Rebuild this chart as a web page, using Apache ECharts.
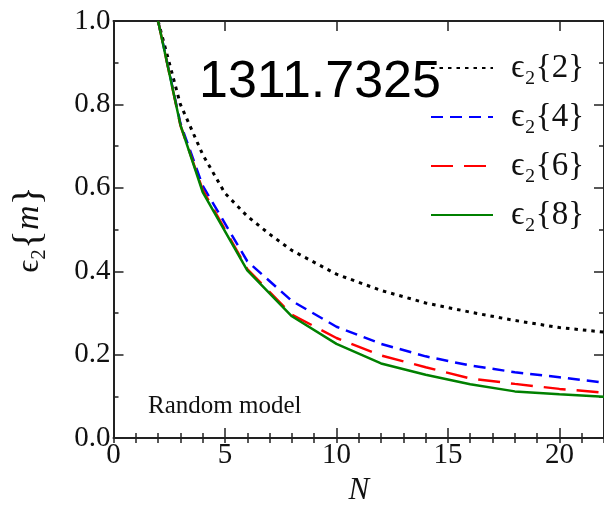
<!DOCTYPE html>
<html>
<head>
<meta charset="utf-8">
<script src="https://cdn.jsdelivr.net/npm/echarts@6/dist/echarts.min.js"></script>
<style>html,body{margin:0;padding:0;background:#fff}#c{width:604px;height:511px}</style>
</head>
<body>
<div id="c"></div>
<script>
// ---- data ----
const nColored = [2, 3, 4, 6, 8, 10, 12, 14, 16, 18, 20, 22];
const nDotted = [2, 3, 4, 5, 6, 7, 8, 10, 12, 14, 16, 18, 20, 22];
const eps2_2 = [1.0, 0.80, 0.68, 0.587, 0.532, 0.489, 0.45, 0.393, 0.354, 0.324, 0.302, 0.282, 0.265, 0.254];
const eps2_4 = [1.0, 0.755, 0.605, 0.424, 0.329, 0.267, 0.226, 0.196, 0.174, 0.158, 0.146, 0.133];
const eps2_6 = [1.0, 0.75, 0.595, 0.405, 0.296, 0.24, 0.198, 0.17, 0.143, 0.13, 0.118, 0.109];
const eps2_8 = [1.0, 0.751, 0.59, 0.402, 0.292, 0.226, 0.179, 0.152, 0.129, 0.112, 0.105, 0.099];
const seriesOrders = ['2', '4', '6', '8'];
const xTicks = [0, 5, 10, 15, 20];
const yTicks = [0.0, 0.2, 0.4, 0.6, 0.8, 1.0];
const annotation = '1311.7325';
const modelLabel = 'Random model';

const SERIF = '"Liberation Serif", "DejaVu Serif", serif';
const AX = '#222';
const pairs = (xs, ys) => xs.map((x, i) => [x, ys[i]]);

const chart = echarts.init(document.getElementById('c'), null, {renderer: 'canvas'});

const baseX = {
  type: 'value', min: 0, max: 22, gridIndex: 0,
  splitLine: {show: false},
  axisLine: {show: true, onZero: false, lineStyle: {color: AX, width: 2}},
};
const option = {
  animation: false,
  backgroundColor: '#fff',
  grid: {left: 113.5, right: -8.7, top: 21, bottom: 65, containLabel: false},
  xAxis: [
    Object.assign({}, baseX, {
      position: 'bottom', interval: 5,
      axisTick: {inside: true, length: 10, lineStyle: {color: AX, width: 1.5}},
      axisLabel: {fontFamily: SERIF, fontSize: 29, color: '#111', margin: 3, showMaxLabel: false,
        formatter: v => (xTicks.indexOf(v) >= 0 ? String(v) : '')},
      name: 'N', nameLocation: 'middle', nameGap: 36,
      nameTextStyle: {fontFamily: SERIF, fontStyle: 'italic', fontSize: 31, color: '#111'}
    }),
    Object.assign({}, baseX, {
      position: 'bottom', interval: 1,
      axisLine: {show: false},
      axisTick: {inside: true, length: 5, lineStyle: {color: AX, width: 1.5}},
      axisLabel: {show: false}
    }),
    Object.assign({}, baseX, {
      position: 'top', interval: 5,
      axisTick: {inside: true, length: 10, lineStyle: {color: AX, width: 1.5}},
      axisLabel: {show: false}
    }),
    Object.assign({}, baseX, {
      position: 'top', interval: 1,
      axisLine: {show: false},
      axisTick: {inside: true, length: 5, lineStyle: {color: AX, width: 1.5}},
      axisLabel: {show: false}
    })
  ],
  yAxis: [
    {
      type: 'value', min: 0, max: 1, interval: 0.2, position: 'left',
      splitLine: {show: false},
      axisLine: {show: true, onZero: false, lineStyle: {color: AX, width: 2}},
      axisTick: {inside: true, length: 10, lineStyle: {color: AX, width: 1.5}},
      minorTick: {show: true, splitNumber: 2, length: 5, lineStyle: {color: AX, width: 1.5}},
      axisLabel: {fontFamily: SERIF, fontSize: 29, color: '#111', margin: 3,
        formatter: v => {
          const t = yTicks.find(k => Math.abs(k - v) < 1e-6);
          return t === undefined ? '' : t.toFixed(1);
        }},
      name: '{e|ϵ}{s|2}{b|{}{m|m}}', nameLocation: 'middle', nameGap: 64,
      nameTextStyle: {
        fontFamily: SERIF, fontSize: 40, color: '#111',
        rich: {
          e: {fontFamily: SERIF, fontSize: 32, color: '#111'},
          s: {fontFamily: SERIF, fontSize: 21, color: '#111', verticalAlign: 'bottom'},
          b: {fontFamily: SERIF, fontSize: 40, color: '#111'},
          m: {fontFamily: SERIF, fontStyle: 'italic', fontSize: 34, color: '#111'}
        }
      }
    },
    {
      type: 'value', min: 0, max: 1, interval: 0.2, position: 'right',
      splitLine: {show: false},
      axisLine: {show: true, onZero: false, lineStyle: {color: AX, width: 2}},
      axisTick: {inside: true, length: 10, lineStyle: {color: AX, width: 1.5}},
      minorTick: {show: true, splitNumber: 2, length: 5, lineStyle: {color: AX, width: 1.5}},
      axisLabel: {show: false}
    }
  ],
  legend: {
    orient: 'vertical', left: 430, top: 50, padding: 0,
    itemWidth: 62, itemHeight: 14, itemGap: 13,
    itemStyle: {opacity: 0},
    data: seriesOrders.map(o => 'e2{' + o + '}'),
    formatter: name => 'ϵ₂{' + name.slice(3, -1) + '}',
    textStyle: {
      fontFamily: SERIF, fontSize: 33, color: '#111', lineHeight: 36, padding: [0, 0, 0, 13]
    }
  },
  graphic: [
    {type: 'text', left: 199, top: 57, z: 10,
      style: {text: annotation, fontFamily: '"Liberation Sans", Arial, sans-serif', fontSize: 52, fill: '#000'}},
    {type: 'text', left: 148, top: 394, z: 10,
      style: {text: modelLabel, fontFamily: SERIF, fontSize: 25, fill: '#111'}}
  ],
  series: [
    {name: 'e2{2}', type: 'line', data: pairs(nDotted, eps2_2), showSymbol: false, symbol: 'none',
      lineStyle: {color: '#000', width: 3, type: [3.5, 5]}, itemStyle: {color: '#000'}},
    {name: 'e2{4}', type: 'line', data: pairs(nColored, eps2_4), showSymbol: false, symbol: 'none',
      lineStyle: {color: '#0000ff', width: 2.5, type: [12, 7]}, itemStyle: {color: '#0000ff'}},
    {name: 'e2{6}', type: 'line', data: pairs(nColored, eps2_6), showSymbol: false, symbol: 'none',
      lineStyle: {color: '#ff0000', width: 2.5, type: [22, 11]}, itemStyle: {color: '#ff0000'}},
    {name: 'e2{8}', type: 'line', data: pairs(nColored, eps2_8), showSymbol: false, symbol: 'none',
      lineStyle: {color: '#008000', width: 2.5}, itemStyle: {color: '#008000'}}
  ]
};
chart.setOption(option);
</script>
</body>
</html>
